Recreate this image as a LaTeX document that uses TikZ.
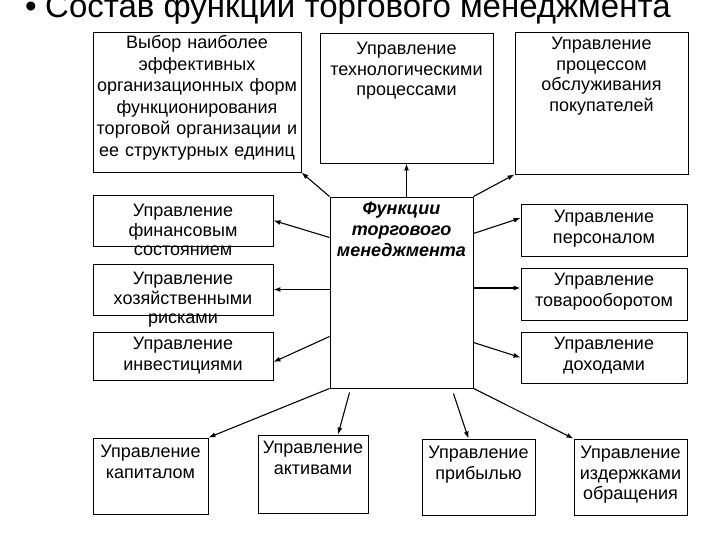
\documentclass[tikz,border=0pt]{standalone}
\usepackage{fontspec}
\setmainfont{Liberation Sans}
\usetikzlibrary{positioning,arrows.meta,calc}

\begin{document}
\begin{tikzpicture}[x=1pt, y=-1pt,
    funcbox/.style={rectangle, draw=black, line width=0.9pt, fill=white, inner sep=0pt},
    boxtext/.style={anchor=base, inner sep=0pt, align=center, text width=#1,
                    font=\fontsize{18}{20.5}\selectfont},
    titletext/.style={inner sep=0pt, font=\fontsize{33}{37}\selectfont},
    arrow/.style={-{Latex[length=7pt,width=5pt]}, line width=1.1pt, black}
]
    \useasboundingbox (0,0) rectangle (720,540);
    \clip (0,0) rectangle (720,540);

    % title
    \node[titletext, anchor=base west] (title) at (45,18) {Состав функции торгового менеджмента};
    \node[titletext, anchor=base east] (bullet) at ([xshift=-8pt]title.base west) {•};

    % boxes
    \node[funcbox, minimum width=208pt, minimum height=140pt] (sel)  at (197,102) {};
    \node[funcbox, minimum width=173pt, minimum height=130pt] (tech) at (406.5,98) {};
    \node[funcbox, minimum width=173pt, minimum height=142pt] (serv) at (601.5,103) {};
    \node[funcbox, minimum width=143pt, minimum height=191pt] (func) at (401.5,292.5) {};
    \node[funcbox, minimum width=180pt, minimum height=51pt] (fin)  at (183,220.5) {};
    \node[funcbox, minimum width=180pt, minimum height=51pt] (risk) at (183,289.5) {};
    \node[funcbox, minimum width=180pt, minimum height=48pt] (inv)  at (183,356) {};
    \node[funcbox, minimum width=166pt, minimum height=52pt] (pers) at (604,230) {};
    \node[funcbox, minimum width=166pt, minimum height=52pt] (turn) at (604,294) {};
    \node[funcbox, minimum width=166pt, minimum height=51pt] (inc)  at (604,357.5) {};
    \node[funcbox, minimum width=115pt, minimum height=76pt] (cap)  at (150.5,476) {};
    \node[funcbox, minimum width=110pt, minimum height=78pt] (act)  at (313,474) {};
    \node[funcbox, minimum width=113pt, minimum height=76pt] (prof) at (478.5,477) {};
    \node[funcbox, minimum width=113pt, minimum height=76pt] (cost) at (630.5,477) {};

    % texts
    \node[boxtext=230pt, font=\fontsize{18}{21.5}\selectfont] (selT) at ([yshift=-17pt]sel.north)
        {Выбор наиболее\\ эффективных\\ организационных форм\\ функционирования\\ торговой организации и\\ ее структурных единиц};
    \node[boxtext=190pt] (techT) at ([yshift=-22pt]tech.north) {Управление\\ технологическими\\ процессами};
    \node[boxtext=190pt] (servT) at ([yshift=-18pt]serv.north) {Управление\\ процессом\\ обслуживания\\ покупателей};
    \node[boxtext=160pt, font=\fontsize{18}{21}\selectfont\bfseries\itshape] (funcT) at ([yshift=-18pt]func.north)
        {Функции\\ торгового\\ менеджмента};
    \node[boxtext=200pt, font=\fontsize{18}{19.5}\selectfont] (finT) at ([yshift=-22pt]fin.north) {Управление\\ финансовым\\ состоянием};
    \node[boxtext=200pt, font=\fontsize{18}{19.5}\selectfont] (riskT) at ([yshift=-21pt]risk.north) {Управление\\ хозяйственными\\ рисками};
    \node[boxtext=200pt] (invT) at ([yshift=-18pt]inv.north) {Управление\\ инвестициями};
    \node[boxtext=190pt] (persT) at ([yshift=-19pt]pers.north) {Управление\\ персоналом};
    \node[boxtext=190pt] (turnT) at ([yshift=-18pt]turn.north) {Управление\\ товарооборотом};
    \node[boxtext=190pt] (incT) at ([yshift=-18pt]inc.north) {Управление\\ доходами};
    \node[boxtext=130pt] (capT) at ([yshift=-20pt]cap.north) {Управление\\ капиталом};
    \node[boxtext=130pt] (actT) at ([yshift=-19pt]act.north) {Управление\\ активами};
    \node[boxtext=130pt] (profT) at ([yshift=-20pt]prof.north) {Управление\\ прибылью};
    \node[boxtext=130pt] (costT) at ([yshift=-20pt]cost.north) {Управление\\ издержками\\ обращения};

    % arrows
    \draw[arrow] (func.north west) -- (sel.south east);
    \draw[arrow] (func.north -| tech.south) -- (tech.south);
    \draw[arrow] (func.north east) -- (serv.south west);
    \draw[arrow] ([yshift=55pt]func.west) -- (fin.east);
    \draw[arrow] (func.west |- risk.east) -- (risk.east);
    \draw[arrow] ([yshift=-44pt]func.west) -- ([yshift=-6pt]inv.east);
    \draw[arrow] ([yshift=59pt]func.east) -- ([yshift=12pt]pers.west);
    \draw[arrow] ([yshift=4.5pt]func.east) -- ([yshift=6pt]turn.west);
    \draw[arrow] ([yshift=-50pt]func.east) -- (inc.west);
    \draw[arrow] (func.south west) -- (cap.north east);
    \draw[arrow] ([xshift=20pt,yshift=-4pt]func.south west) -- ([xshift=25pt]act.north);
    \draw[arrow] ([xshift=-20pt,yshift=-5pt]func.south east) -- ([xshift=-10pt]prof.north);
    \draw[arrow] (func.south east) -- (cost.north west);
\end{tikzpicture}
\end{document}
